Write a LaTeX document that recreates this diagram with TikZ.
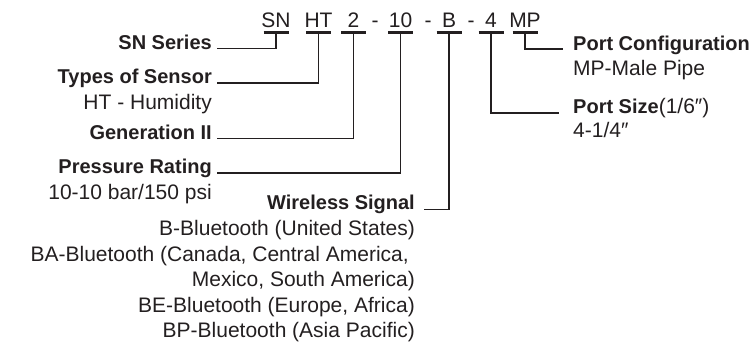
\documentclass[tikz,border=0pt]{standalone}
\usepackage{fontspec}
\setmainfont{Liberation Sans}
\usetikzlibrary{positioning}
\definecolor{inkdark}{HTML}{231F20}
\tikzset{
  code/.style={font=\fontsize{21}{25}\selectfont, text=inkdark, anchor=base,
    inner xsep=0pt, inner ysep=4pt, text depth=0pt},
  sep/.style={font=\fontsize{21}{25}\selectfont, text=inkdark, anchor=base, inner sep=0pt},
  head/.style={font=\fontsize{20}{24}\selectfont\bfseries, text=inkdark, inner sep=0pt},
  desc/.style={font=\fontsize{21}{25}\selectfont, text=inkdark, inner sep=0pt},
  uline/.style={draw=inkdark, line width=2.8pt},
  leader/.style={draw=inkdark, line width=1.7pt}
}
\newcommand{\codeline}[1]{
  \draw[uline] ([xshift=-12.5pt]#1.south) -- ([xshift=12.5pt]#1.south);
}

\begin{document}
\begin{tikzpicture}[x=1pt,y=-1pt]
\useasboundingbox (0,0) rectangle (755,344);
% code row
\node[code] (cSN) at (276,28) {SN};
\node[code] (cHT) at (318.5,28) {HT};
\node[code] (c2) at (353.5,28) {2};
\node[sep] (d1) at (375,28) {-};
\node[code] (c10) at (400.5,28) {10};
\node[sep] (d2) at (428,28) {-};
\node[code] (cB) at (449,28) {B};
\node[sep] (d3) at (471,28) {-};
\node[code] (c4) at (491,28) {4};
\node[code] (cMP) at (525,28) {MP};
\codeline{cSN}
\codeline{cHT}
\codeline{c2}
\codeline{c10}
\codeline{cB}
\codeline{c4}
\codeline{cMP}
% left labels
\node[head, anchor=base east] (lSN) at (212,50) {SN Series};
\node[head, anchor=base east] (lType) at (212,84) {Types of Sensor};
\node[desc, anchor=base east] (dType) at (212,110) {HT - Humidity};
\node[head, anchor=base east] (lGen) at (212,140) {Generation II};
\node[head, anchor=base east] (lPres) at (212,174) {Pressure Rating};
\node[desc, anchor=base east] (dPres) at (212,200) {10-10 bar/150 psi};
% wireless
\node[head, anchor=base east] (lWire) at (415,210) {Wireless Signal};
\node[desc, anchor=base east] (dB) at (415,236) {B-Bluetooth (United States)};
\node[desc, anchor=base east] (dBA) at (409,261.5) {BA-Bluetooth (Canada, Central America,};
\node[desc, anchor=base east] (dBA2) at (415,287) {Mexico, South America)};
\node[desc, anchor=base east] (dBE) at (415,312.5) {BE-Bluetooth (Europe, Africa)};
\node[desc, anchor=base east] (dBP) at (415,338) {BP-Bluetooth (Asia Pacific)};
% right labels
\node[head, anchor=base west] (lPort) at (573,50.5) {Port Configuration};
\node[desc, anchor=base west] (dPort) at (573,76) {MP-Male Pipe};
\node[head, anchor=base west] (lSize) at (573,114) {Port Size\fontsize{21}{25}\selectfont\mdseries(1/6″)};
\node[desc, anchor=base west] (dSize) at (573,138) {4-1/4″};
% leaders
\draw[leader] (cSN.south) |- ([xshift=5pt,yshift=1.5pt]lSN.base east);
\draw[leader] (cHT.south) |- ([xshift=5pt,yshift=1pt]lType.base east);
\draw[leader] (c2.south) |- ([xshift=5pt,yshift=1.5pt]lGen.base east);
\draw[leader] (c10.south) |- ([xshift=5pt,yshift=1pt]lPres.base east);
\draw[leader] (cB.south) |- ([xshift=9pt,yshift=0.5pt]lWire.base east);
\draw[leader] (c4.south) |- ([xshift=-14pt,yshift=1pt]lSize.base west);
\draw[leader] (cMP.south) |- ([xshift=-10pt,yshift=1.5pt]lPort.base west);
\end{tikzpicture}
\end{document}
